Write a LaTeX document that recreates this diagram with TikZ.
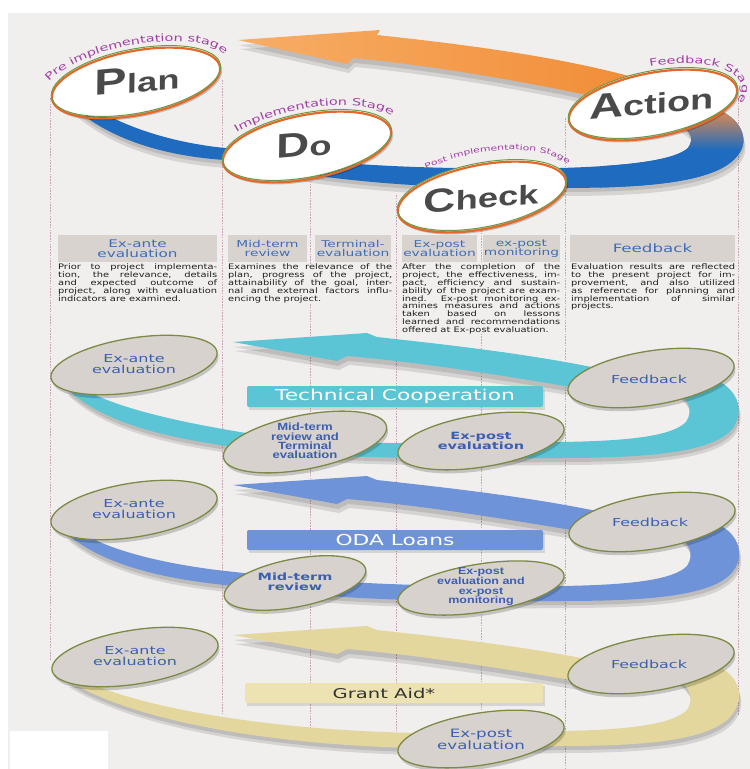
\documentclass[tikz,border=0pt]{standalone}
\usepackage{fontspec}
\setmainfont{DejaVu Sans}[FakeStretch=1.45]
\newfontfamily\parfont{DejaVu Sans}[FakeStretch=1.3]
\newfontfamily\condfont{Liberation Sans Bold}[FakeStretch=1.25]
\newfontfamily\bigfont{Liberation Sans Bold}[FakeStretch=1.35,FakeSlant=0.1]
\usetikzlibrary{decorations.text}
\definecolor{bgc}{HTML}{F1EFED}
\definecolor{dashc}{HTML}{C9A5B7}
\definecolor{hdrfill}{HTML}{D9D3D0}
\definecolor{hdrtext}{HTML}{3E6DB6}
\definecolor{partext}{HTML}{1E1E1E}
\definecolor{stagec}{HTML}{A13FA6}
\definecolor{orl}{HTML}{F7AE66}
\definecolor{ord}{HTML}{F18C36}
\definecolor{ringor}{HTML}{E4682A}
\definecolor{ringgr}{HTML}{6E9A45}
\definecolor{wordc}{HTML}{4A4A4A}
\definecolor{topblue}{HTML}{1F6BBF}
\definecolor{loopbrown}{HTML}{C4865F}
\definecolor{cyanc}{HTML}{5BC5D5}
\definecolor{odac}{HTML}{6F93D8}
\definecolor{grantc}{HTML}{E4D79D}
\definecolor{grantbox}{HTML}{ECE2B2}
\definecolor{ellfill}{HTML}{D8D2CE}
\definecolor{elldraw}{HTML}{7C8A45}
\definecolor{elltext}{HTML}{3C5FB0}
\pgfdeclareverticalshading{loopshade}{100bp}{color(0bp)=(topblue); color(49bp)=(topblue); color(69bp)=(loopbrown); color(100bp)=(loopbrown)}
\newcommand\bandell[5][9]{%
  \fill[black,opacity=.18,rotate around={#1:(#2+1.5,#3+3.5)}] (#2+1.5,#3+3.5) ellipse [x radius=#4, y radius=#5];
  \filldraw[fill=ellfill,draw=elldraw,line width=1.3pt,rotate around={#1:(#2,#3)}] (#2,#3) ellipse [x radius=#4, y radius=#5];}
\newcommand\topell[2]{%
  \fill[black,opacity=.2,rotate around={11:(#1+1.5,#2+4)}] (#1+1.5,#2+4) ellipse [x radius=86, y radius=32];
  \fill[white,rotate around={11:(#1,#2)}] (#1,#2) ellipse [x radius=86, y radius=32];
  \draw[ringor,line width=2.2pt,rotate around={11:(#1,#2+2)}] (#1,#2+2) ellipse [x radius=85.5, y radius=32];
  \draw[ringgr,line width=1pt,rotate around={11:(#1,#2)}] (#1,#2) ellipse [x radius=86, y radius=32];}
\newcommand\stagefont{\color{stagec}\fontsize{10}{10}\selectfont}
\newcommand\stagesmall{\color{stagec}\fontsize{7.5}{7.5}\selectfont}
\def\toparrowpath{(238,40) -- (380,30) -- (377,35) .. controls (470,45) and (570,58) .. (650,82) -- (610,100) .. controls (520,80) and (420,64) .. (353,58) -- (347,64) -- cycle}
\def\topbandpath{(92,106) .. controls (125,128) and (175,143) .. (225,148) .. controls (320,165) and (420,170) .. (560,168) .. controls (630,166) and (675,160) .. (688,148) .. controls (695,138) and (690,130) .. (678,124) -- (714,108) .. controls (742,118) and (750,140) .. (738,155) .. controls (718,182) and (650,188) .. (560,188) .. controls (420,190) and (320,180) .. (225,160) .. controls (165,156) and (110,140) .. (72,106) -- cycle}
\def\bandarrow{(233,342) -- (367,333) -- (377,337) .. controls (450,345) and (540,355) .. (615,372) -- (600,392) .. controls (520,378) and (420,362) .. (347,356) -- (337,361) -- cycle}
\def\lowA{(82,388) .. controls (115,408) and (180,422) .. (240,432) .. controls (300,442) and (400,446) .. (560,442) .. controls (630,441) and (672,436) .. (686,422) .. controls (694,410) and (688,398) .. (675,390) -- (712,378) .. controls (738,388) and (745,410) .. (733,428) .. controls (715,452) and (650,458) .. (560,458) .. controls (400,460) and (300,456) .. (240,448) .. controls (170,438) and (105,425) .. (66,388) -- cycle}
\def\lowB{(82,533) .. controls (115,553) and (175,566) .. (235,572) .. controls (300,580) and (400,588) .. (560,586) .. controls (630,585) and (673,580) .. (687,566) .. controls (695,554) and (689,542) .. (676,534) -- (713,522) .. controls (739,532) and (745,554) .. (734,570) .. controls (716,596) and (650,601) .. (560,601) .. controls (400,603) and (300,596) .. (235,586) .. controls (170,580) and (105,567) .. (66,533) -- cycle}
\def\lowC{(83,680) .. controls (150,712) and (290,731) .. (420,733) .. controls (480,734) and (520,732) .. (560,731) .. controls (630,730) and (673,724) .. (687,710) .. controls (695,698) and (689,686) .. (676,678) -- (713,664) .. controls (739,674) and (745,696) .. (734,712) .. controls (716,740) and (650,746) .. (560,746) .. controls (520,747) and (480,748) .. (420,748) .. controls (290,746) and (140,725) .. (67,680) -- cycle}
\begin{document}
\begin{tikzpicture}[x=1pt,y=-1pt,
  vline/.style={draw=dashc, line width=0.9pt, dash pattern=on 1.6pt off 1.2pt},
  hdr/.style={fill=hdrfill, text=hdrtext, align=center, inner sep=0pt, minimum height=27pt, font=\fontsize{9.5}{9.4}\selectfont},
  para/.style={fill=bgc, inner sep=0pt, anchor=north west, align=justify, text=partext, font=\parfont\fontsize{7.6}{7.8}\selectfont, execute at begin node={\pretolerance=-1 \tolerance=10000 \hyphenpenalty=10000 \exhyphenpenalty=10000 }},
  etxt/.style={text=elltext, align=center, inner sep=0pt, font=\fontsize{11}{10.8}\selectfont},
  etxtb/.style={etxt, font=\bfseries\fontsize{10}{9.5}\selectfont},
  ctxt/.style={etxt, font=\condfont\fontsize{10}{9.6}\selectfont},
  bigw/.style={text=wordc, inner sep=0pt, rotate=5, font=\bigfont},
  boxlbl/.style={minimum width=296pt, minimum height=21pt, inner sep=0pt, rounded corners=2pt, font=\fontsize{15}{15}\selectfont},
  shad/.style={black, opacity=.11}
]
\useasboundingbox (0,0) rectangle (750,769);
\fill[white] (0,0) rectangle (750,769);
\fill[bgc] (8,13) rectangle (750,769);
\foreach \xx/\ya/\yb in {50/98/660, 222/80/715, 310/178/735, 396/195/730, 481/230/712, 565/118/769, 738/100/715}
  \draw[vline] (\xx,\ya) -- (\xx,\yb);

% column headers
\node[hdr, minimum width=159pt, font=\fontsize{10.5}{9.8}\selectfont] (h1) at (137.5,248.5) {Ex-ante\\evaluation};
\node[hdr, minimum width=79pt] (h2) at (267.5,248.5) {Mid-term\\review};
\node[hdr, minimum width=76pt] (h3) at (353,248.5) {Terminal-\\evaluation};
\node[hdr, minimum width=75pt] (h4) at (439.5,248.5) {Ex-post\\evaluation};
\node[hdr, minimum width=77pt] (h5) at (521.5,248.5) {ex-post\\monitoring};
\node[hdr, minimum width=165pt, font=\fontsize{11.5}{11}\selectfont] (h6) at (652.5,248.5) {Feedback};

% paragraphs
\node[para, text width=159pt] (p1) at (58,264) {Prior to project implementa-\linebreak tion, the relevance, details\linebreak and expected outcome of\linebreak project, along with evaluation\linebreak indicators are examined.};
\node[para, text width=164pt] (p2) at (228,264) {Examines the relevance of the\linebreak plan, progress of the project,\linebreak attainability of the goal, inter-\linebreak nal and external factors influ-\linebreak encing the project.};
\node[para, text width=158pt] (p3) at (402,264) {After the completion of the\linebreak project, the effectiveness, im-\linebreak pact, efficiency and sustain-\linebreak ability of the project are exam-\linebreak ined. Ex-post monitoring ex-\linebreak amines measures and actions\linebreak taken based on lessons\linebreak learned and recommendations\linebreak offered at Ex-post evaluation.};
\node[para, text width=164pt] (p4) at (571,264) {Evaluation results are reflected\linebreak to the present project for im-\linebreak provement, and also utilized\linebreak as reference for planning and\linebreak implementation of similar\linebreak projects.};

% top PDCA cycle
\fill[shad,shift={(2,9)}] \toparrowpath;
\fill[shad,shift={(1,5)}] \toparrowpath;
\shade[left color=orl,right color=ord] \toparrowpath;
\fill[shad,shift={(2,8)}] \topbandpath;
\fill[shad,shift={(1,4)}] \topbandpath;
\fill[topblue] \topbandpath;
\begin{scope}
  \clip (600,0) rectangle (760,300);
  \shade[shading=loopshade] \topbandpath;
\end{scope}
\topell{136}{81}
\topell{307}{145}
\topell{482}{195}
\topell{653}{103}
\node[bigw] (wplan) at (136,80) {\fontsize{36}{36}\selectfont P\fontsize{27}{27}\selectfont lan};
\node[bigw] (wdo) at (303,145) {\fontsize{34}{34}\selectfont D\fontsize{27}{27}\selectfont o};
\node[bigw] (wcheck) at (480,197) {\fontsize{33}{33}\selectfont C\fontsize{27}{27}\selectfont heck};
\node[bigw] (waction) at (650,102) {\fontsize{35}{35}\selectfont A\fontsize{28}{28}\selectfont ction};
\path[rotate around={11:(136,81)}, decorate, decoration={text along path, text align=center, text={|\stagefont|Pre implementation stage}}] (136,81) ++(188:95 and 36) arc[start angle=188, end angle=367, x radius=95, y radius=36];
\path[rotate around={11:(307,145)}, decorate, decoration={text along path, text align=center, text={|\stagefont|Implementation Stage}}] (307,145) ++(205:94 and 36) arc[start angle=205, end angle=372, x radius=94, y radius=36];
\path[rotate around={11:(482,195)}, decorate, decoration={text along path, text align=center, text={|\stagesmall|Post implementation Stage}}] (482,195) ++(228:95 and 42) arc[start angle=228, end angle=360, x radius=95, y radius=42];
\path[rotate around={11:(653,103)}, decorate, decoration={text along path, text align=center, text={|\stagefont|Feedback Stage}}] (653,103) ++(262:90 and 36) arc[start angle=262, end angle=400, x radius=90, y radius=36];

% band 1: Technical Cooperation
\fill[shad,shift={(2,9)}] \bandarrow;
\fill[shad,shift={(1,5)}] \bandarrow;
\fill[cyanc] \bandarrow;
\fill[shad,shift={(2,7)}] \lowA;
\fill[shad,shift={(1,4)}] \lowA;
\fill[cyanc] \lowA;
\fill[shad] (249,390) rectangle (545,410);
\node[boxlbl, fill=cyanc, text=white] (tc) at (395,396.5) {Technical Cooperation};
\bandell{134}{365}{84}{27}
\bandell{651}{378}{84}{27}
\bandell[11]{305}{442}{83}{27}
\bandell{481}{441}{84}{26}
\node[etxt] (b1ante) at (134,364) {Ex-ante\\evaluation};
\node[etxt] (b1fb) at (649,379) {Feedback};
\node[ctxt, font=\condfont\fontsize{10.5}{9.4}\selectfont] (b1mid) at (305,441) {Mid-term\\review and\\Terminal\\evaluation};
\node[etxtb] (b1post) at (481,441) {Ex-post\\evaluation};

% band 2: ODA Loans
\begin{scope}[shift={(0,143)}]
\fill[shad,shift={(2,9)}] \bandarrow;
\fill[shad,shift={(1,5)}] \bandarrow;
\fill[odac] \bandarrow;
\end{scope}
\fill[shad,shift={(2,7)}] \lowB;
\fill[shad,shift={(1,4)}] \lowB;
\fill[odac] \lowB;
\fill[shad] (249,533) rectangle (545,553);
\node[boxlbl, minimum height=20pt, fill=odac, text=white] (oda) at (395,540) {ODA Loans};
\bandell{134}{510}{84}{27}
\bandell{652}{522}{84}{27}
\bandell[11]{295}{583}{72}{24}
\bandell{481}{588}{84}{24}
\node[etxt] (b2ante) at (134,509) {Ex-ante\\evaluation};
\node[etxt] (b2fb) at (650,522) {Feedback};
\node[etxtb] (b2mid) at (295,582) {Mid-term\\review};
\node[ctxt] (b2post) at (481,587) {Ex-post\\evaluation and\\ex-post\\monitoring};

% band 3: Grant Aid
\begin{scope}[shift={(0,293)}]
\fill[shad,shift={(2,9)}] \bandarrow;
\fill[shad,shift={(1,5)}] \bandarrow;
\fill[grantc] \bandarrow;
\end{scope}
\fill[shad,shift={(2,7)}] \lowC;
\fill[shad,shift={(1,4)}] \lowC;
\fill[grantc] \lowC;
\fill[shad] (247,686) rectangle (545,706);
\node[boxlbl, minimum width=298pt, minimum height=20pt, fill=grantbox, text=black!80, font=\fontsize{13.5}{13.5}\selectfont] (ga) at (394,693) {Grant Aid*\hspace*{20pt}};
\bandell{135}{657}{84}{27}
\bandell{651}{664}{84}{27}
\bandell{481}{739}{84}{26}
\node[etxt] (b3ante) at (135,656) {Ex-ante\\evaluation};
\node[etxt] (b3fb) at (649,664) {Feedback};
\node[etxt, font=\fontsize{11.5}{11}\selectfont] (b3post) at (481,739) {Ex-post\\evaluation};

\fill[white] (10,731) rectangle (108,769);
\end{tikzpicture}
\end{document}
